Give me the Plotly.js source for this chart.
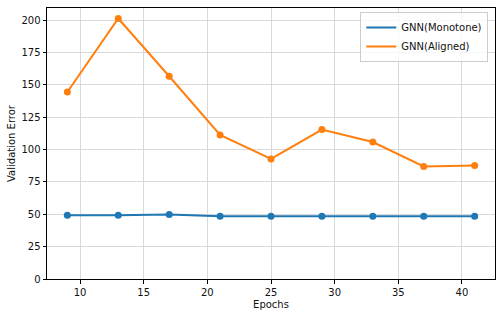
<!DOCTYPE html>
<html><head><meta charset="utf-8">
<script src="https://cdn.plot.ly/plotly-3.0.1.min.js"></script>
<style>html,body{margin:0;padding:0;background:#fff}</style>
</head><body><div id="chart" style="width:500px;height:317px"></div>
<script>
const epochs = [9, 13, 17, 21, 25, 29, 33, 37, 41];
const monotone = [49.2, 49.2, 49.9, 48.5, 48.5, 48.5, 48.5, 48.5, 48.5];
const aligned = [144.4, 201.2, 156.6, 111.2, 92.7, 115.4, 105.8, 86.9, 87.6];
const seriesNames = ['GNN(Monotone)', 'GNN(Aligned)'];
const colors = ['#1f77b4', '#ff7f0e'];
const xTicks = [10, 15, 20, 25, 30, 35, 40];
const yTicks = [0, 25, 50, 75, 100, 125, 150, 175, 200];

const series = [monotone, aligned];
const traces = [];
series.forEach((ys, i) => {
  traces.push({x: epochs, y: ys, name: seriesNames[i], mode: 'lines+markers', showlegend: false,
    line: {color: colors[i], width: 2}, marker: {color: colors[i], size: 7}});
});
series.forEach((ys, i) => {
  traces.push({x: [null], y: [null], name: seriesNames[i], mode: 'lines', showlegend: true,
    line: {color: colors[i], width: 2}});
});
const axisCommon = {
  showline: true, linecolor: '#000', linewidth: 1, mirror: true,
  ticks: 'outside', ticklen: 3.5, tickcolor: '#000', tickwidth: 1,
  showgrid: true, gridcolor: '#d9d9d9', gridwidth: 1, zeroline: false,
  tickfont: {family: 'DejaVu Sans', size: 10, color: '#111'}
};
const layout = {
  width: 500, height: 317,
  margin: {l: 47, r: 5, t: 8, b: 38},
  paper_bgcolor: '#fff', plot_bgcolor: '#fff',
  font: {family: 'DejaVu Sans', size: 10, color: '#111'},
  xaxis: Object.assign({}, axisCommon, {
    range: [7.4, 42.6], tickvals: xTicks, ticktext: xTicks.map(String),
    title: {text: 'Epochs', font: {family: 'DejaVu Sans', size: 10}, standoff: 4}
  }),
  yaxis: Object.assign({}, axisCommon, {
    range: [0, 209.3], tickvals: yTicks, ticktext: yTicks.map(String),
    title: {text: 'Validation Error', font: {family: 'DejaVu Sans', size: 10}, standoff: 3}
  }),
  showlegend: true,
  legend: {x: 0.985, y: 0.985, xanchor: 'right', yanchor: 'top',
    bgcolor: 'rgba(255,255,255,0.8)', bordercolor: '#ccc', borderwidth: 1,
    font: {family: 'DejaVu Sans', size: 10, color: '#111'},
    itemwidth: 30, tracegroupgap: 0}
};
Plotly.newPlot('chart', traces, layout, {displayModeBar: false, staticPlot: true});
</script></body></html>
